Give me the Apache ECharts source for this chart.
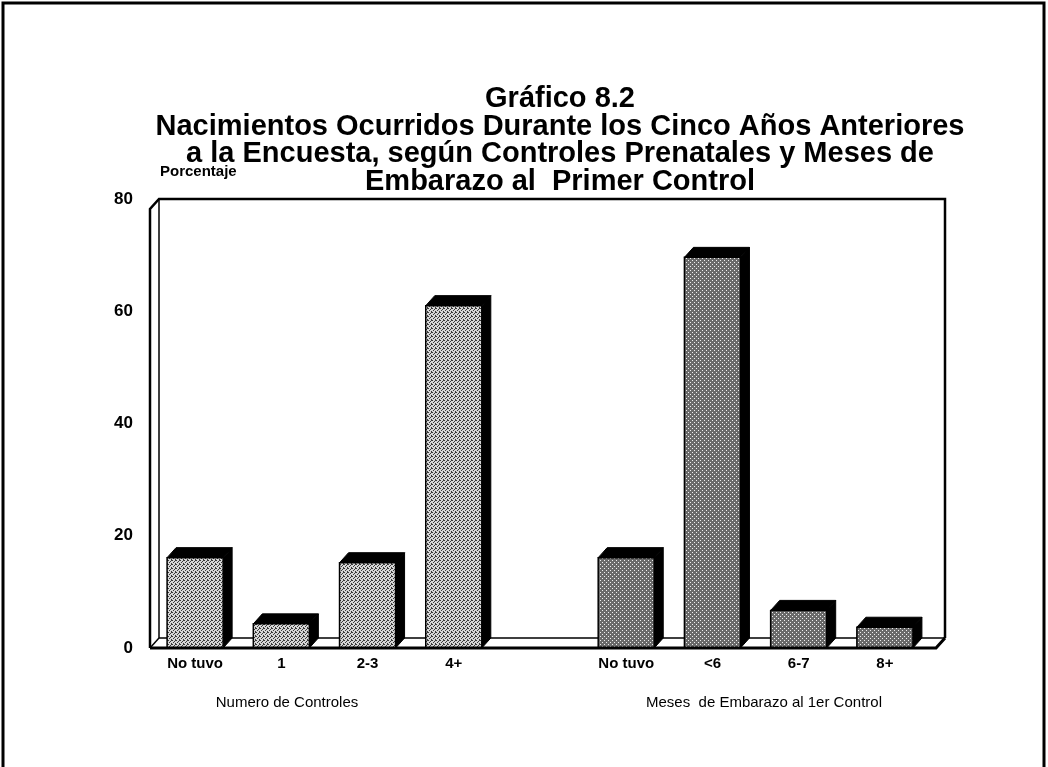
<!DOCTYPE html>
<html><head><meta charset="utf-8">
<script src="https://cdn.jsdelivr.net/npm/echarts@6/dist/echarts.min.js"></script>
<style>html,body{margin:0;padding:0;background:#fff}#c{width:1048px;height:767px}</style>
</head><body><div id="c"></div>
<script>
// ---- data ----
const categories = ['No tuvo', '1', '2-3', '4+', '', 'No tuvo', '<6', '6-7', '8+'];
const controlesValues = [16.1, 4.3, 15.2, 61.0, null, null, null, null, null];
const mesesValues = [null, null, null, null, null, 16.1, 69.6, 6.7, 3.7];
const yTickValues = [0, 20, 40, 60, 80];
const titleLines = [
  'Gráfico 8.2',
  'Nacimientos Ocurridos Durante los Cinco Años Anteriores',
  'a la Encuesta, según Controles Prenatales y Meses de',
  'Embarazo al  Primer Control'
];
const groupLabels = ['Numero de Controles', 'Meses  de Embarazo al 1er Control'];
const yAxisName = 'Porcentaje';

// ---- patterns ----
function makePattern(base, dot, cells) {
  const c = document.createElement('canvas');
  c.width = 4; c.height = 4;
  const ctx = c.getContext('2d');
  ctx.fillStyle = base; ctx.fillRect(0, 0, 4, 4);
  ctx.fillStyle = dot;
  cells.forEach(p => ctx.fillRect(p[0], p[1], 1, 1));
  return { image: c, repeat: 'repeat' };
}
const pat1 = makePattern('#d6d6d6', '#3a3a3a', [[0,0],[2,1],[1,2],[3,3],[3,0]]);
const pat2 = makePattern('#6a6a6a', '#f0f0f0', [[0,0],[2,2]]);

const DX = 9, DY = 10;
function makeRender(pattern) {
  return function (params, api) {
    const v = api.value(1);
    if (v == null || isNaN(v)) return;
    const idx = api.value(0);
    const top = api.coord([idx, v]);
    const base = api.coord([idx, 0]);
    const w = api.size([1, 0])[0] * 0.65;
    const x0 = top[0] - w / 2, x1 = top[0] + w / 2, yT = top[1], yB = base[1];
    return {
      type: 'group',
      children: [
        { type: 'polygon', shape: { points: [[x1, yT], [x1 + DX, yT - DY], [x1 + DX, yB - DY], [x1, yB]] }, style: { fill: '#000', stroke: '#000', lineWidth: 1 } },
        { type: 'polygon', shape: { points: [[x0, yT], [x0 + DX, yT - DY], [x1 + DX, yT - DY], [x1, yT]] }, style: { fill: '#000', stroke: '#000', lineWidth: 1 } },
        { type: 'rect', shape: { x: x0, y: yT, width: w, height: yB - yT }, style: { fill: pattern, stroke: '#000', lineWidth: 1.5 } }
      ]
    };
  };
}

// ---- frame geometry (decoration) ----
const FL = 150, FR = 936, FB = 648, FT = 199;
const font = '"Liberation Sans", Arial, Helvetica, sans-serif';

const chart = echarts.init(document.getElementById('c'));
const lineEl = (pts, w, z) => ({ type: 'polyline', z: z, shape: { points: pts }, style: { stroke: '#000', lineWidth: w, fill: null } });

chart.setOption({
  backgroundColor: '#fff',
  animation: false,
  grid: { left: 152, right: 120, top: FT, bottom: 767 - FB },
  xAxis: {
    type: 'category', data: categories,
    axisLine: { show: false }, axisTick: { show: false },
    axisLabel: { color: '#000', fontFamily: font, fontSize: 15, fontWeight: 'bold', margin: 8, interval: 0 }
  },
  yAxis: {
    type: 'value', min: 0, max: 80, interval: 20,
    name: yAxisName, nameLocation: 'end', nameGap: 20,
    nameTextStyle: { color: '#000', fontFamily: font, fontSize: 15, fontWeight: 'bold', align: 'left', padding: [0, 0, 0, 8] },
    axisLine: { show: false }, axisTick: { show: false }, splitLine: { show: false },
    axisLabel: { color: '#000', fontFamily: font, fontSize: 17, fontWeight: 'bold', margin: 19,
      formatter: v => (yTickValues.indexOf(v) >= 0 ? String(v) : '') }
  },
  series: [
    { type: 'custom', z: 10, renderItem: makeRender(pat1), data: controlesValues.map((v, i) => [i, v]), encode: { x: 0, y: 1 } },
    { type: 'custom', z: 10, renderItem: makeRender(pat2), data: mesesValues.map((v, i) => [i, v]), encode: { x: 0, y: 1 } }
  ],
  graphic: [
    { type: 'rect', z: 0, shape: { x: 3, y: 3, width: 1041, height: 800 }, style: { fill: null, stroke: '#000', lineWidth: 3 } },
    lineEl([[FL, FB], [FL, FT + DY], [FL + DX, FT], [FR + DX, FT], [FR + DX, FB - DY]], 2.5, 1),
    lineEl([[FL + DX, FT], [FL + DX, FB - DY], [FR + DX, FB - DY]], 1.5, 1),
    lineEl([[FL, FB], [FL + DX, FB - DY]], 1.5, 1),
    lineEl([[FL, FB], [FR, FB], [FR + DX, FB - DY]], 3, 100),
    ...titleLines.map((t, i) => ({
      type: 'text', z: 5, style: { text: t, x: 560, y: 99 + i * 27.5, textAlign: 'center', textVerticalAlign: 'middle',
        fill: '#000', font: 'bold 29px ' + font }
    })),
    { type: 'text', z: 5, style: { text: groupLabels[0], x: 287, y: 703, textAlign: 'center', textVerticalAlign: 'middle', fill: '#000', font: '15px ' + font } },
    { type: 'text', z: 5, style: { text: groupLabels[1], x: 764, y: 703, textAlign: 'center', textVerticalAlign: 'middle', fill: '#000', font: '15px ' + font } }
  ]
});
</script></body></html>
